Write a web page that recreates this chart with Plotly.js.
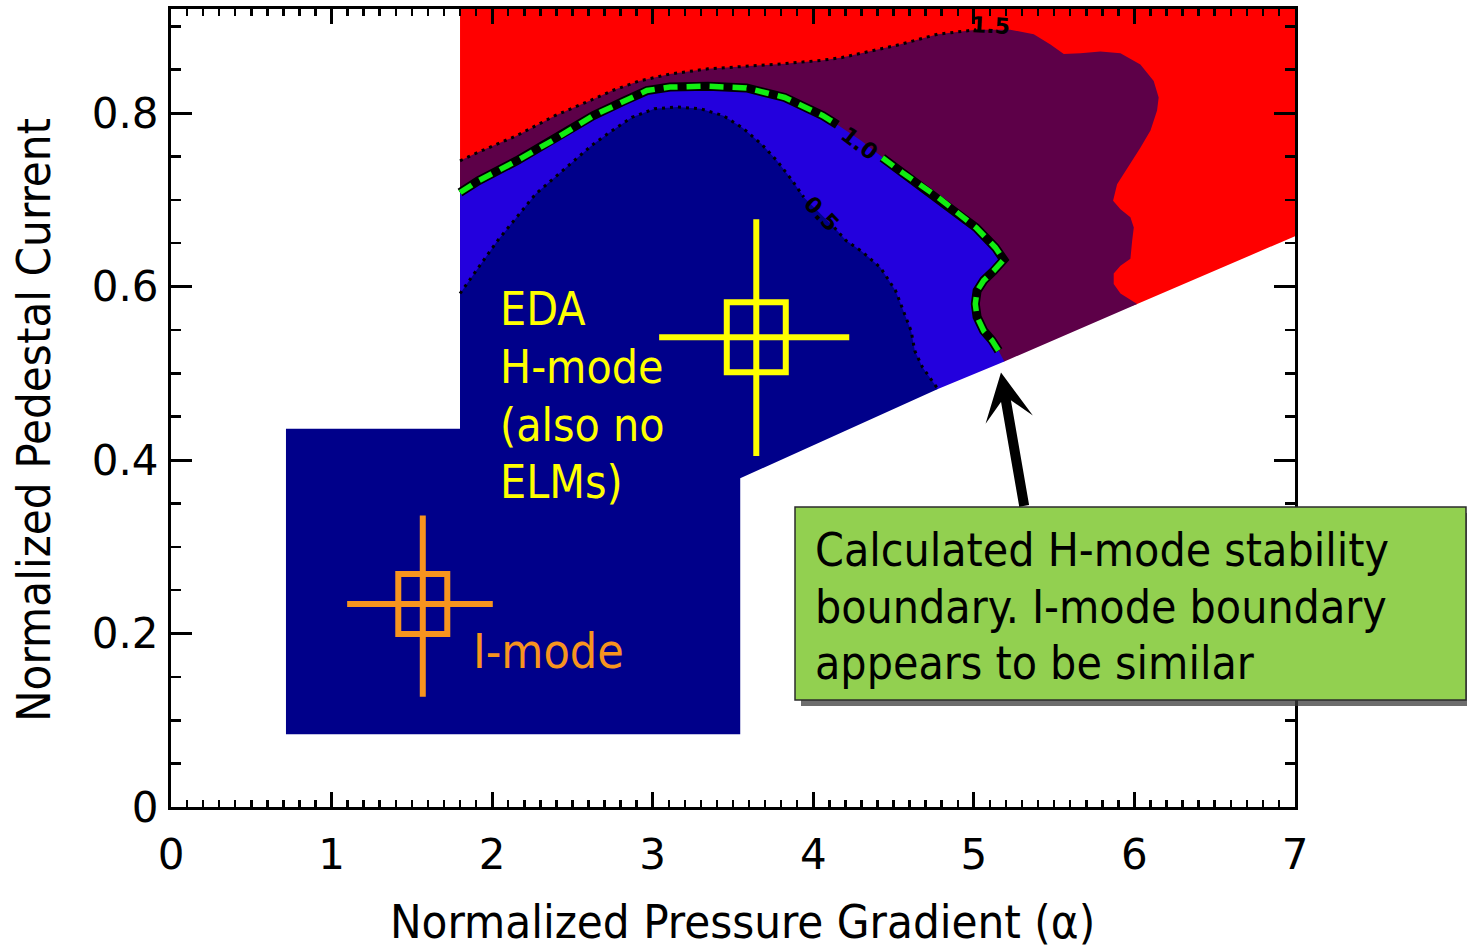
<!DOCTYPE html>
<html>
<head>
<meta charset="utf-8">
<script src="https://cdn.plot.ly/plotly-3.0.1.min.js"></script>
<style>
  html, body { margin: 0; padding: 0; background: #ffffff; }
  #chart { width: 1467px; height: 950px; }
</style>
</head>
<body>
<div id="chart"></div>
<script>
// ---------------------------------------------------------------------
// Pedestal stability map: normalized pedestal current vs. normalized
// pressure gradient (alpha), with the measured operating points.
// ---------------------------------------------------------------------

// Contour levels of the stability calculation
const levelNames = ['0.5', '1.0', '1.5'];

// Level 0.5 contour (navy | blue)
const c05Alpha = [1.800, 1.915, 2.034, 2.153, 2.272, 2.391, 2.511, 2.629, 2.749, 2.869,
                  3.011, 3.155, 3.297, 3.440, 3.559, 3.679, 3.774, 3.870, 3.941, 4.131,
                  4.204, 4.299, 4.418, 4.513, 4.561, 4.609, 4.632, 4.680, 4.776];
const c05Current = [0.592, 0.622, 0.653, 0.680, 0.707, 0.726, 0.745, 0.764, 0.780, 0.795,
                    0.805, 0.807, 0.805, 0.797, 0.783, 0.764, 0.745, 0.722, 0.703, 0.668,
                    0.653, 0.641, 0.622, 0.595, 0.572, 0.549, 0.526, 0.507, 0.482];

// Level 1.0 contour: calculated H-mode stability boundary (blue | purple)
const c10Alpha = [1.800, 1.915, 2.153, 2.391, 2.629, 2.821, 2.964, 3.107, 3.345, 3.584,
                  3.822, 4.060, 4.150, 4.299, 4.430, 4.538, 4.776, 5.014, 5.134, 5.186,
                  5.123, 5.061, 5.020, 5.009, 5.020, 5.061, 5.113, 5.154, 5.190];
const c10Current = [0.7085, 0.722, 0.745, 0.770, 0.797, 0.814, 0.826, 0.830, 0.831, 0.829,
                    0.818, 0.797, 0.7865, 0.768, 0.7485, 0.7335, 0.703, 0.668, 0.645, 0.631,
                    0.618, 0.607, 0.595, 0.580, 0.565, 0.549, 0.538, 0.526, 0.5136];

// Level 1.5 contour (purple | red)
const c15Alpha = [1.800, 1.915, 2.153, 2.391, 2.629, 2.749, 2.916, 3.107, 3.345, 3.584,
                  3.822, 4.060, 4.179, 4.299, 4.538, 4.776, 5.014, 5.227, 5.373, 5.477,
                  5.560, 5.664, 5.788, 5.913, 6.037, 6.120, 6.151, 6.141, 6.100, 6.037,
                  5.955, 5.892, 5.867, 5.913, 5.975, 5.996, 5.986, 5.975, 5.913, 5.871,
                  5.871, 5.913, 6.017];
const c15Current = [0.745, 0.755, 0.774, 0.797, 0.816, 0.826, 0.837, 0.845, 0.851, 0.854,
                    0.857, 0.861, 0.864, 0.869, 0.879, 0.891, 0.896, 0.896, 0.891, 0.879,
                    0.868, 0.869, 0.871, 0.869, 0.856, 0.837, 0.818, 0.803, 0.780, 0.760,
                    0.737, 0.718, 0.699, 0.689, 0.680, 0.668, 0.653, 0.632, 0.624, 0.615,
                    0.603, 0.592, 0.580];

// Where each level is labelled on its contour
const labelAlpha = [4.049, 4.287, 5.103];
const labelCurrent = [0.684, 0.765, 0.9005];

// Scanned domain: left edge, top, and the lower-right limit line
const scanLeftAlpha = 1.8;
const scanTopCurrent = 0.92;
const limitAlpha = [3.545, 7.0];
const limitCurrent = [0.379, 0.658];

// Experimental operating window
const windowAlpha = [0.716, 3.545];
const windowCurrent = [0.084, 0.436];

// Measured operating points with uncertainties
const modeNames = ['I-mode', 'EDA H-mode'];
const modeAlpha = [1.568, 3.645];
const modeCurrent = [0.234, 0.5416];
const alphaErrPlus = [0.436, 0.579];
const alphaErrMinus = [0.471, 0.605];
const currentErrPlus = [0.102, 0.136];
const currentErrMinus = [0.107, 0.137];

// Text labels
const edaLines = ['EDA', 'H-mode', '(also no', 'ELMs)'];
const imodeLabel = 'I-mode';
const noteLines = ['Calculated H-mode stability', 'boundary. I-mode boundary', 'appears to be similar'];
const xTitle = 'Normalized Pressure Gradient (α)';
const yTitle = 'Normalized Pedestal Current';

// Axis ticks
const xTickVals = [0, 1, 2, 3, 4, 5, 6, 7];
const xTickText = ['0', '1', '2', '3', '4', '5', '6', '7'];
const yTickVals = [0, 0.2, 0.4, 0.6, 0.8];
const yTickText = ['0', '0.2', '0.4', '0.6', '0.8'];

// ---- Style ----------------------------------------------------------
const W = 1467, H = 950;
const M = { l: 171, r: 172, t: 9, b: 143 };
const X_RANGE = [0, 7], Y_RANGE = [0, 0.92];
const kx = (W - M.l - M.r) / (X_RANGE[1] - X_RANGE[0]);
const ky = (H - M.t - M.b) / (Y_RANGE[1] - Y_RANGE[0]);

const COL = {
  red: '#FF0000', purple: '#5D0048', blue: '#2300DD', navy: '#00008A',
  green: '#11EE11', yellow: '#FFFF00', orange: '#F7941E', box: '#92D050'
};
const NARROW = "'DejaVu Sans Condensed', 'DejaVu Sans', sans-serif";
const WIDE = "'DejaVu Sans', Verdana, sans-serif";
const modeColors = [COL.orange, COL.yellow];
const modeBoxHalf = [[24.5, 30], [29.5, 35]];   // px, half width / half height
const labelAngles = [46, 37, 3];

// pixel helpers for text placement
const px2paperX = p => (p - M.l) / (W - M.l - M.r);
const px2paperY = p => (H - M.b - p) / (H - M.t - M.b);
const px2x = p => X_RANGE[0] + (p - M.l) / kx;
const px2y = p => Y_RANGE[0] + (H - M.b - p) / ky;

// ---- Helpers --------------------------------------------------------
// Break a polyline where it passes under a contour label
function gapAround(xs, ys, lx, ly, r) {
  const ox = [], oy = [];
  const dist = (x, y) => Math.hypot((x - lx) * kx, (y - ly) * ky);
  const segDist = (x1, y1, x2, y2) => {
    const ax = x1 * kx, ay = y1 * ky, bx = x2 * kx, by = y2 * ky;
    const px = lx * kx, py = ly * ky;
    const dx = bx - ax, dy = by - ay;
    const t = Math.max(0, Math.min(1, ((px - ax) * dx + (py - ay) * dy) / (dx * dx + dy * dy)));
    return Math.hypot(ax + t * dx - px, ay + t * dy - py);
  };
  let prev = null;
  for (let i = 0; i < xs.length; i++) {
    if (dist(xs[i], ys[i]) < r) {
      if (ox.length && ox[ox.length - 1] !== null) { ox.push(null); oy.push(null); }
      prev = null;
      continue;
    }
    if (prev !== null && segDist(xs[prev], ys[prev], xs[i], ys[i]) < r) {
      ox.push(null); oy.push(null);
    }
    ox.push(xs[i]); oy.push(ys[i]);
    prev = i;
  }
  return [ox, oy];
}

function area(xs, ys, color) {
  return {
    type: 'scatter', mode: 'lines', x: xs, y: ys, fill: 'toself',
    fillcolor: color, line: { width: 0, color: color }, hoverinfo: 'skip', showlegend: false
  };
}
function path(xs, ys, color, width, dash) {
  return {
    type: 'scatter', mode: 'lines', x: xs, y: ys, connectgaps: false,
    line: { color: color, width: width, dash: dash || 'solid' }, hoverinfo: 'skip', showlegend: false
  };
}
const rev = a => a.slice().reverse();

// ---- Filled regions ----------------------------------------------------
// Each level is painted over the previous one; hidden edges are kept off
// the limit line so that only the visible band touches it.
const traces = [];
const n10 = c10Alpha.length, n05 = c05Alpha.length;
const k05 = n05 - 3;   // a 0.5-contour point safely above the limit line

// red: above the 1.5 level
traces.push(area(
  [scanLeftAlpha, limitAlpha[1], limitAlpha[1], c15Alpha[c15Alpha.length - 1]].concat(rev(c10Alpha.slice(0, n10 - 1))),
  [scanTopCurrent, scanTopCurrent, limitCurrent[1], c15Current[c15Current.length - 1]].concat(rev(c10Current.slice(0, n10 - 1))),
  COL.red));
// purple: 1.0 .. 1.5
traces.push(area(
  c15Alpha.concat([c10Alpha[n10 - 1]], rev(c05Alpha.slice(0, k05 + 1))),
  c15Current.concat([c10Current[n10 - 1]], rev(c05Current.slice(0, k05 + 1))),
  COL.purple));
// blue: 0.5 .. 1.0
traces.push(area(
  c10Alpha.concat([c05Alpha[n05 - 1], windowAlpha[1], scanLeftAlpha]),
  c10Current.concat([c05Current[n05 - 1], windowCurrent[1], windowCurrent[1]]),
  COL.blue));
// navy: below 0.5, joined with the operating window
traces.push(area(
  c05Alpha.concat([limitAlpha[0], windowAlpha[1], windowAlpha[0], windowAlpha[0], scanLeftAlpha]),
  c05Current.concat([limitCurrent[0], windowCurrent[0], windowCurrent[0], windowCurrent[1], windowCurrent[1]]),
  COL.navy));

// ---- Contour lines ---------------------------------------------------
const R = 15;
const l05 = gapAround(c05Alpha, c05Current, labelAlpha[0], labelCurrent[0], R);
traces.push(path(l05[0], l05[1], '#000000', 3, '3px,5px'));

const c10Line = gapAround(c10Alpha.slice(0, -1), c10Current.slice(0, -1), labelAlpha[1], labelCurrent[1], R);
traces.push(path(c10Line[0], c10Line[1], '#000000', 9));
traces.push(path(c10Line[0], c10Line[1], COL.green, 5.5, '14px,9px'));

const cut15 = c15Alpha.findIndex(a => a > labelAlpha[2]);
const l15 = gapAround(c15Alpha.slice(0, cut15), c15Current.slice(0, cut15), labelAlpha[2], labelCurrent[2], 12);
traces.push(path(l15[0], l15[1], '#000000', 3, '3px,5px'));

// ---- Operating points --------------------------------------------------
modeNames.forEach((name, i) => {
  traces.push({
    type: 'scatter', mode: 'markers', name: name,
    x: [modeAlpha[i]], y: [modeCurrent[i]],
    marker: { size: 1, opacity: 0 },
    error_x: { type: 'data', symmetric: false, array: [alphaErrPlus[i]], arrayminus: [alphaErrMinus[i]],
               color: modeColors[i], thickness: 6, width: 0 },
    error_y: { type: 'data', symmetric: false, array: [currentErrPlus[i]], arrayminus: [currentErrMinus[i]],
               color: modeColors[i], thickness: 6, width: 0 },
    hoverinfo: 'skip', showlegend: false
  });
});

const shapes = modeNames.map((name, i) => ({
  type: 'rect', xref: 'x', yref: 'y', xsizemode: 'pixel', ysizemode: 'pixel',
  xanchor: modeAlpha[i], yanchor: modeCurrent[i],
  x0: -modeBoxHalf[i][0], x1: modeBoxHalf[i][0], y0: -modeBoxHalf[i][1], y1: modeBoxHalf[i][1],
  line: { color: modeColors[i], width: 6 }, fillcolor: 'rgba(0,0,0,0)', layer: 'above'
}));

// Call-out box (shadow, then box) in paper coordinates
shapes.push({
  type: 'rect', xref: 'paper', yref: 'paper',
  x0: px2paperX(801), x1: px2paperX(1475), y0: px2paperY(706), y1: px2paperY(513),
  line: { width: 0 }, fillcolor: 'rgba(60,60,60,0.75)', layer: 'above'
});
shapes.push({
  type: 'rect', xref: 'paper', yref: 'paper',
  x0: px2paperX(795), x1: px2paperX(1466), y0: px2paperY(700), y1: px2paperY(507),
  line: { width: 1.5, color: '#2b2b2b' }, fillcolor: COL.box, layer: 'above'
});

// ---- Annotations ---------------------------------------------------------
const annotations = [];
levelNames.forEach((lv, i) => {
  annotations.push({
    x: labelAlpha[i], y: labelCurrent[i], xref: 'x', yref: 'y', showarrow: false,
    text: '<b>' + lv + '</b>', textangle: labelAngles[i],
    font: { family: WIDE, size: 22, color: '#000000' }
  });
});

const edaLineY = [309, 367, 425, 482];
edaLines.forEach((t, i) => {
  annotations.push({
    x: px2x(498), y: px2y(edaLineY[i]), xref: 'x', yref: 'y', xanchor: 'left', yanchor: 'middle',
    align: 'left', showarrow: false, text: t,
    font: { family: NARROW, size: 46, color: COL.yellow }
  });
});
annotations.push({
  x: px2x(471), y: px2y(651), xref: 'x', yref: 'y', xanchor: 'left', yanchor: 'middle', align: 'left',
  showarrow: false, text: imodeLabel,
  font: { family: NARROW, size: 48, color: COL.orange }
});
annotations.push({
  x: 5.169, y: 0.501, xref: 'x', yref: 'y', ax: 5.315, ay: 0.3455, axref: 'x', ayref: 'y',
  text: '', showarrow: true, arrowhead: 3, arrowsize: 0.8, arrowwidth: 10, arrowcolor: '#000000', standoff: 0
});
const noteLineY = [550, 607, 663];
noteLines.forEach((t, i) => {
  annotations.push({
    x: px2paperX(813), y: px2paperY(noteLineY[i]), xref: 'paper', yref: 'paper',
    xanchor: 'left', yanchor: 'middle', align: 'left', showarrow: false, text: t,
    font: { family: NARROW, size: 46, color: '#000000' }
  });
});

// Axis titles
annotations.push({
  x: px2paperX(742), y: px2paperY(922), xref: 'paper', yref: 'paper', xanchor: 'center', yanchor: 'middle',
  showarrow: false, text: xTitle, font: { family: NARROW, size: 47, color: '#000000' }
});
annotations.push({
  x: px2paperX(33), y: px2paperY(420), xref: 'paper', yref: 'paper', xanchor: 'center', yanchor: 'middle',
  showarrow: false, text: yTitle, textangle: -90, font: { family: NARROW, size: 47, color: '#000000' }
});

// ---- Layout --------------------------------------------------------------
const axisCommon = {
  ticks: 'inside', tickwidth: 3, tickcolor: '#000000', showline: true, linewidth: 3,
  linecolor: '#000000', mirror: 'ticks', showgrid: false, zeroline: false,
  tickmode: 'array', tickfont: { family: WIDE, size: 42, color: '#000000' }
};

const layout = {
  width: W, height: H, margin: M, paper_bgcolor: '#ffffff', plot_bgcolor: '#ffffff',
  showlegend: false,
  xaxis: Object.assign({}, axisCommon, {
    range: X_RANGE, tickvals: xTickVals, ticktext: xTickText, ticklen: 15,
    ticklabelstandoff: 9,
    minor: { dtick: 0.1, tick0: 0, ticks: 'inside', ticklen: 7, tickwidth: 2.5, tickcolor: '#000000', showgrid: false }
  }),
  yaxis: Object.assign({}, axisCommon, {
    range: Y_RANGE, tickvals: yTickVals, ticktext: yTickText, ticklen: 21,
    ticklabelstandoff: 1,
    minor: { dtick: 0.05, tick0: 0, ticks: 'inside', ticklen: 10, tickwidth: 2.5, tickcolor: '#000000', showgrid: false }
  }),
  shapes: shapes,
  annotations: annotations
};

Plotly.newPlot('chart', traces, layout, { staticPlot: true, displayModeBar: false });
</script>
</body>
</html>
